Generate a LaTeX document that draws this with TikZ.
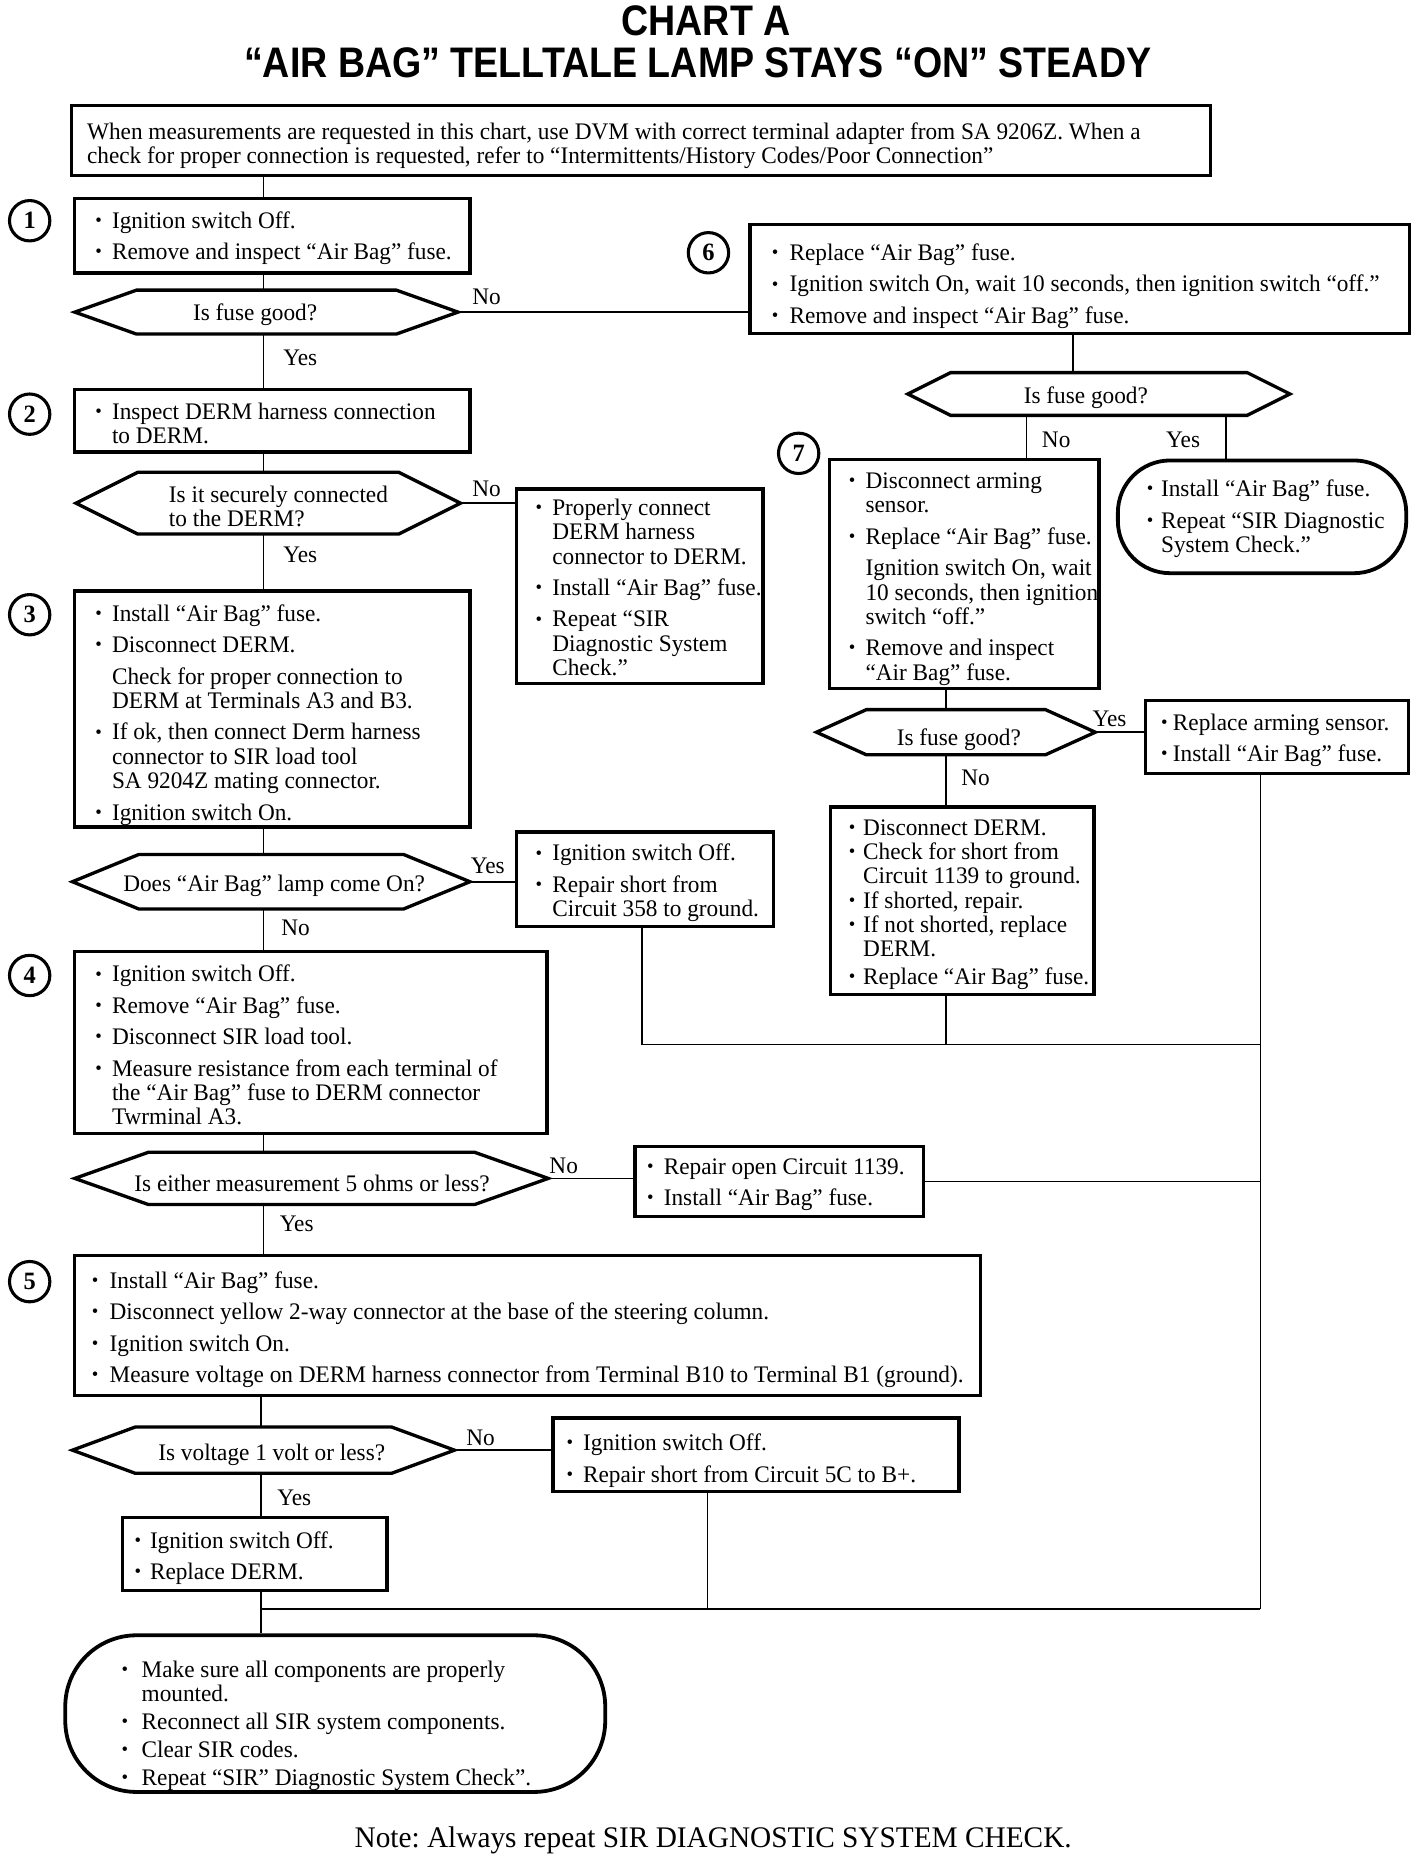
\documentclass[tikz,border=0pt]{standalone}
\usepackage{fontspec}
\setmainfont[FakeStretch=0.98]{Liberation Serif}
\newfontfamily\titlefont[FakeStretch=0.88]{Liberation Sans}
\usetikzlibrary{fit}
\frenchspacing
\newcommand\bl[1][7pt]{\makebox[#1][l]{\raisebox{0.8pt}{\fontsize{8}{8}\selectfont •}}}
\newcommand\ind[1][7pt]{\hspace*{#1}}
\newcommand\bodyfont{\fontsize{10}{10.25}\selectfont}
\newcommand\hexa[6]{%
  \draw[dec] (#2,#4) -- ({#2+#6},{#4-#5}) -- ({#3-#6},{#4-#5}) -- (#3,#4) -- ({#3-#6},{#4+#5}) -- ({#2+#6},{#4+#5}) -- cycle;
  \node[fit={(#2,{#4-#5}) (#3,{#4+#5})}, inner sep=0pt] (#1) {};}
\newcommand\boxx[5]{\node[box, fit={(#2,#3) (#4,#5)}] (#1) {};}
\begin{document}
\begin{tikzpicture}[x=0.5pt,y=-0.5pt,
  box/.style={draw, line width=1.4pt, inner sep=0pt},
  term/.style={draw, line width=1.6pt, inner sep=0pt},
  txt/.style={inner sep=0pt, align=left, font=\bodyfont, anchor=north west, execute at begin node=\strut},
  dtxt/.style={inner sep=0pt, font=\bodyfont, anchor=base},
  lab/.style={inner sep=0pt, font=\bodyfont, anchor=base},
  dec/.style={line width=1.4pt, line join=miter},
  conn/.style={line width=0.65pt},
  circ/.style={circle, draw, line width=1.3pt, minimum size=17pt, inner sep=0pt, font=\bfseries\fontsize{10.5}{10.5}\selectfont}]
\useasboundingbox (0,0) rectangle (1200,1564);

% title
\node[inner sep=0pt, anchor=base, font=\titlefont\bfseries\fontsize{18}{18}\selectfont] (title1) at (595,30) {CHART A};
\node[inner sep=0pt, anchor=base, font=\titlefont\bfseries\fontsize{18}{18}\selectfont] (title2) at (588,65) {“AIR BAG” TELLTALE LAMP STAYS “ON” STEADY};

% intro
\boxx{intro}{60}{89}{1020}{148}
\node[txt] (introt) at (73,103) {When measurements are requested in this chart, use DVM with correct terminal adapter from SA 9206Z. When a\\check for proper connection is requested, refer to “Intermittents/History Codes/Poor Connection”};

% circles
\node[circ] (n1) at (25,186) {1};
\node[circ] (n2) at (25,349) {2};
\node[circ] (n3) at (25,518) {3};
\node[circ] (n4) at (25,822) {4};
\node[circ] (n5) at (25,1080) {5};
\node[circ] (n6) at (597,213) {6};
\node[circ] (n7) at (673,382) {7};

% step 1
\boxx{b1}{63}{167}{396}{230}
\node[txt] (b1t) at (80,178) {\bl Ignition switch Off.\\[3pt]\bl Remove and inspect “Air Bag” fuse.};
\hexa{d1}{63}{386}{263}{18.5}{52}
\node[dtxt] (d1t) at (215,270) {Is fuse good?};

% step 2
\boxx{b2}{63}{328}{396}{381}
\node[txt] (b2t) at (80,339) {\bl Inspect DERM harness connection\\\ind to DERM.};
\hexa{d2}{64}{388}{424}{26}{52}
\node[txt] (d2t) at (142,409) {Is it securely connected\\to the DERM?};
\boxx{bp}{435}{412}{643}{576}
\node[txt] (bpt) at (451,420) {\bl Properly connect\\\ind DERM harness\\\ind connector to DERM.\\[3pt]\bl Install “Air Bag” fuse.\\[3pt]\bl Repeat “SIR\\\ind Diagnostic System\\\ind Check.”};

% step 3
\boxx{b3}{63}{498}{396}{697}
\node[txt] (b3t) at (80,509) {\bl Install “Air Bag” fuse.\\[3pt]\bl Disconnect DERM.\\[3pt]\ind Check for proper connection to\\\ind DERM at Terminals A3 and B3.\\[3pt]\bl If ok, then connect Derm harness\\\ind connector to SIR load tool\\\ind SA 9204Z mating connector.\\[3pt]\bl Ignition switch On.};
\hexa{d3}{61}{396}{743}{23}{56}
\node[dtxt] (d3t) at (231,751) {Does “Air Bag” lamp come On?};
\boxx{r358}{435}{701}{652}{781}
\node[txt] (r358t) at (451,711) {\bl Ignition switch Off.\\[3pt]\bl Repair short from\\\ind Circuit 358 to ground.};

% step 4
\boxx{b4}{63}{802}{461}{955}
\node[txt] (b4t) at (80,813) {\bl Ignition switch Off.\\[3pt]\bl Remove “Air Bag” fuse.\\[3pt]\bl Disconnect SIR load tool.\\[3pt]\bl Measure resistance from each terminal of\\\ind the “Air Bag” fuse to DERM connector\\\ind Twrminal A3.};
\hexa{d4}{63}{462}{993}{22}{62}
\node[dtxt] (d4t) at (263,1004) {Is either measurement 5 ohms or less?};
\boxx{r1139}{535}{966}{778}{1025}
\node[txt] (r1139t) at (545,976) {\bl Repair open Circuit 1139.\\[3pt]\bl Install “Air Bag” fuse.};

% step 5
\boxx{b5}{63}{1058}{826}{1176}
\node[txt] (b5t) at (77,1071) {\bl[7.5pt]Install “Air Bag” fuse.\\[3pt]\bl[7.5pt]Disconnect yellow 2-way connector at the base of the steering column.\\[3pt]\bl[7.5pt]Ignition switch On.\\[3pt]\bl[7.5pt]Measure voltage on DERM harness connector from Terminal B10 to Terminal B1 (ground).};
\hexa{d5}{61}{383}{1222}{19.5}{53}
\node[dtxt] (d5t) at (229,1231) {Is voltage 1 volt or less?};
\boxx{r5c}{466}{1195}{808}{1257}
\node[txt] (r5ct) at (477,1208) {\bl Ignition switch Off.\\[3pt]\bl Repair short from Circuit 5C to B+.};
\boxx{rd}{103}{1279}{326}{1340}
\node[txt] (rdt) at (113,1290) {\bl[6.5pt]Ignition switch Off.\\[3pt]\bl[6.5pt]Replace DERM.};

% end
\node[term, rounded corners=30pt, fit={(55,1378) (510,1510)}] (endt) {};
\node[txt] (endtt) at (102,1399) {\bl[8.5pt]Make sure all components are properly\\\ind[8.5pt]mounted.\\[1.5pt]\bl[8.5pt]Reconnect all SIR system components.\\[1.5pt]\bl[8.5pt]Clear SIR codes.\\[1.5pt]\bl[8.5pt]Repeat “SIR” Diagnostic System Check”.};

% step 6
\boxx{b6}{632}{189}{1188}{281}
\node[txt] (b6t) at (650,205) {\bl[7.5pt]Replace “Air Bag” fuse.\\[3pt]\bl[7.5pt]Ignition switch On, wait 10 seconds, then ignition switch “off.”\\[3pt]\bl[7.5pt]Remove and inspect “Air Bag” fuse.};
\hexa{d6}{765}{1087}{332}{18}{36}
\node[dtxt] (d6t) at (915,340) {Is fuse good?};
\node[term, rounded corners=22pt, fit={(942,388) (1185,483)}] (t7y) {};
\node[txt] (t7yt) at (966,404) {\bl[6pt]Install “Air Bag” fuse.\\[3pt]\bl[6pt]Repeat “SIR Diagnostic\\\ind[6pt]System Check.”};

% step 7
\boxx{b7}{699}{387}{926}{580}
\node[txt] (b7t) at (715,398) {\bl Disconnect arming\\\ind sensor.\\[3pt]\bl Replace “Air Bag” fuse.\\[3pt]\ind Ignition switch On, wait\\\ind 10 seconds, then ignition\\\ind switch “off.”\\[3pt]\bl Remove and inspect\\\ind “Air Bag” fuse.};
\hexa{d7}{688}{923}{617}{19}{42}
\node[dtxt] (d7t) at (808,628) {Is fuse good?};
\boxx{b8}{965}{590}{1187}{652}
\node[txt] (b8t) at (978,601) {\bl[5pt]Replace arming sensor.\\[3pt]\bl[5pt]Install “Air Bag” fuse.};
\boxx{b9}{700}{680}{922}{838}
\node[txt] (b9t) at (715,690) {\bl[6pt]Disconnect DERM.\\\bl[6pt]Check for short from\\\ind[6pt]Circuit 1139 to ground.\\\bl[6pt]If shorted, repair.\\\bl[6pt]If not shorted, replace\\\ind[6pt]DERM.\\[1.5pt]\bl[6pt]Replace “Air Bag” fuse.};

% labels
\node[lab] (l1n) at (410,257) {No};
\node[lab] (l1y) at (253,308) {Yes};
\node[lab] (l2n) at (410,418) {No};
\node[lab] (l2y) at (253,474) {Yes};
\node[lab] (l3y) at (411,736) {Yes};
\node[lab] (l3n) at (249,788) {No};
\node[lab] (l4n) at (475,989) {No};
\node[lab] (l4y) at (250,1038) {Yes};
\node[lab] (l5n) at (405,1218) {No};
\node[lab] (l5y) at (248,1269) {Yes};
\node[lab] (l6n) at (890,377) {No};
\node[lab] (l6y) at (997,377) {Yes};
\node[lab] (l7y) at (935,612) {Yes};
\node[lab] (l7n) at (822,662) {No};

% note
\node[inner sep=0pt, anchor=base, font=\fontsize{12.6}{12.6}\selectfont] (note) at (601,1557) {Note: Always repeat SIR DIAGNOSTIC SYSTEM CHECK.};

% helper coordinates
\coordinate (colA) at (222,0);
\coordinate (colB) at (220,0);
\coordinate (c6) at (904,0);
\coordinate (c7a) at (865,0);
\coordinate (c7b) at (1033,0);
\coordinate (c8) at (797,0);
\coordinate (c358) at (541,0);
\coordinate (c5c) at (596,0);
\coordinate (rx) at (1062,0);
\coordinate (hy1) at (0,880);
\coordinate (hy2) at (0,1356);

% connectors
\draw[conn] (intro.south -| colA) -- (b1.north -| colA);
\draw[conn] (b1.south -| colA) -- (d1.north -| colA);
\draw[conn] (d1.south -| colA) -- (b2.north -| colA);
\draw[conn] (b2.south -| colA) -- (d2.north -| colA);
\draw[conn] (d2.south -| colA) -- (b3.north -| colA);
\draw[conn] (b3.south -| colA) -- (d3.north -| colA);
\draw[conn] (d3.south -| colA) -- (b4.north -| colA);
\draw[conn] (b4.south -| colA) -- (d4.north -| colA);
\draw[conn] (d4.south -| colA) -- (b5.north -| colA);
\draw[conn] (b5.south -| colB) -- (d5.north -| colB);
\draw[conn] (d5.south -| colB) -- (rd.north -| colB);
\draw[conn] (rd.south -| colB) -- (hy2 -| colB) -- (hy2 -| rx);
\draw[conn] (hy2 -| colB) -- (endt.north -| colB);

\draw[conn] (d1.east) -- (d1.east -| b6.west);
\draw[conn] (d2.east) -- (d2.east -| bp.west);
\draw[conn] (d3.east) -- (d3.east -| r358.west);
\draw[conn] (d4.east) -- (d4.east -| r1139.west);
\draw[conn] (d5.east) -- (d5.east -| r5c.west);

\draw[conn] (b6.south -| c6) -- (d6.north -| c6);
\draw[conn] (d6.south -| c7a) -- (b7.north -| c7a);
\draw[conn] (d6.south -| c7b) -- (t7y.north -| c7b);
\draw[conn] (b7.south -| c8) -- (d7.north -| c8);
\draw[conn] (d7.east) -- (d7.east -| b8.west);
\draw[conn] (d7.south -| c8) -- (b9.north -| c8);
\draw[conn] (b8.south -| rx) -- (hy2 -| rx);
\draw[conn] (r358.south -| c358) -- (hy1 -| c358) -- (hy1 -| rx);
\draw[conn] (b9.south -| c8) -- (hy1 -| c8);
\draw[conn] (r1139.east) -- (r1139.east -| rx);
\draw[conn] (r5c.south -| c5c) -- (hy2 -| c5c);
\end{tikzpicture}
\end{document}
